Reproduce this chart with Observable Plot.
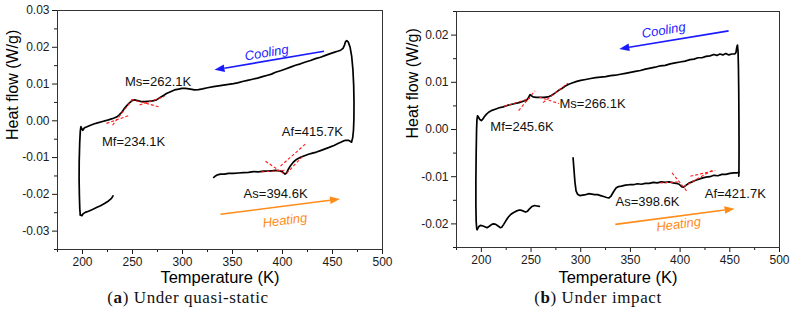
<!DOCTYPE html>
<html>
<head>
<meta charset="utf-8">
<script src="https://cdn.jsdelivr.net/npm/d3@7"></script>
<script src="https://cdn.jsdelivr.net/npm/@observablehq/plot@0.6"></script>
<style>
  body { margin: 0; background: #fff; }
  #wrap { position: relative; width: 791px; height: 313px; overflow: hidden; background: #fff; }
  .cap {
    position: absolute; top: 290px; transform: translateX(-50%);
    font-family: "Liberation Serif", "Times New Roman", serif;
    font-size: 17px; line-height: 16px; letter-spacing: 0.6px;
    color: #111; white-space: nowrap;
  }
</style>
</head>
<body>
<div id="wrap"></div>
<script>
// ---------- DSC traces: [temperature (K), heat flow (W/g)] ----------

// (a) quasi-static: heating run above the gap, then the cooling run back down
const quasiHeatHigh = [
  [331.3,-0.0154],[333,-0.0150],[335,-0.0147],[338,-0.0145],[342,-0.0145],[346,-0.0143],
  [351,-0.0143],[356,-0.0142],[361,-0.0141],[366,-0.0140],[371,-0.0138],[376,-0.0139],
  [381,-0.0137],[385,-0.0137],[389,-0.0136],[393,-0.0135],[397,-0.0136],[400,-0.0139],
  [402.5,-0.0145],[404,-0.0142],[406,-0.0131],[408,-0.0122],[411,-0.0112],[414,-0.0105],
  [418,-0.0099],[422,-0.0095],[426,-0.0091],[430,-0.0088],[434,-0.0085],[438,-0.0081],
  [442,-0.0077],[446,-0.0073],[451.5,-0.0067],[456,-0.0061],[460,-0.0056],[463,-0.0053],
  [466,-0.0053],[469,-0.0058]
];
const quasiCool = [
  [469.0,-0.0058],[470.2,-0.0046],[471.0,-0.0025],[471.4,0.0005],[471.5,0.0050],[471.2,0.0095],
  [470.4,0.0140],[469.2,0.0175],[467.6,0.0200],[465.8,0.0214],[464.3,0.0218],[463.0,0.0215],
  [462.0,0.0206],[460.5,0.0197],[458.2,0.0192],[455.0,0.0189],[451.5,0.0186],[447.0,0.0182],
  [443.0,0.0178],[438.0,0.0173],[433.0,0.0169],[428.0,0.0164],[423.0,0.0160],[418.0,0.0155],
  [413.0,0.0151],[408.0,0.0146],[403.0,0.0141],[398.0,0.0136],[393.0,0.0132],[389.0,0.0127],
  [385.0,0.0124],[380.0,0.0120],[375.0,0.0116],[370.0,0.0113],[365.0,0.0110],[360.0,0.0107],
  [355.0,0.0103],[351.0,0.0101],[346.0,0.0099],[341.0,0.0097],[336.0,0.0095],[331.0,0.0093],
  [325.0,0.0090],[320.0,0.0087],[316.0,0.0085],[312.0,0.0084],[308.0,0.0086],[303.0,0.0088],
  [299.5,0.0088],[296.0,0.0086],[292.0,0.0084],[288.0,0.0079],[284.0,0.0074],[281.0,0.0069],
  [278.0,0.0064],[274.0,0.0057],[270.0,0.0054],[266.0,0.0053],[262.0,0.0052],[258.0,0.0053],
  [255.0,0.0055],[252.0,0.0057],[249.5,0.0055],[247.0,0.0049],[244.5,0.0042],[242.0,0.0034],
  [239.5,0.0024],[237.0,0.0017],[234.5,0.0011],[231.0,0.0007],[227.5,0.0004],[224.0,0.0001],
  [220.0,-0.0002],[216.0,-0.0005],[212.0,-0.0008],[208.0,-0.0012],[204.5,-0.0016],[202.0,-0.0019],
  [200.3,-0.0026],[199.2,-0.0021],[198.4,-0.0016],[197.8,-0.0028],[197.2,-0.0060],[196.7,-0.0110],
  [196.6,-0.0160],[196.9,-0.0205],[197.3,-0.0240],[197.8,-0.0256]
];
const quasiHeatLow = [
  [197.8,-0.0256],[199.4,-0.0258],[200.6,-0.0253],[202.7,-0.0249],[206,-0.0246],[210,-0.0241],
  [214,-0.0236],[218,-0.0231],[222,-0.0225],[226,-0.0218],[229,-0.0211],[230.5,-0.0204]
];

// (b) impact
const impactHeatHigh = [
  [292.3,-0.0060],[293.2,-0.0085],[294.2,-0.0112],[295.3,-0.0130],[296.8,-0.0137],[299,-0.0140],
  [302,-0.0139],[305,-0.0138],[308,-0.0136],[311,-0.0137],[314,-0.0138],[317,-0.0138],
  [320,-0.0140],[323,-0.0142],[326,-0.0144],[328.5,-0.0145],[330.5,-0.0141],[333,-0.0132],
  [335.5,-0.0124],[338,-0.0121],[341,-0.0120],[345,-0.0118],[349,-0.0117],[353,-0.0117],
  [357,-0.0115],[361,-0.0116],[365,-0.0114],[369,-0.0114],[373,-0.0112],[377,-0.0113],
  [381,-0.0111],[385,-0.0112],[389,-0.0111],[393,-0.0113],[396,-0.0114],[399,-0.0116],
  [401.5,-0.0121],[403.5,-0.0122],[405.5,-0.0119],[408.5,-0.0114],[412,-0.0111],[415,-0.0108],
  [418,-0.0106],[422,-0.0103],[426,-0.0101],[430,-0.0100],[434,-0.0097],[438,-0.0098],
  [442,-0.0095],[446,-0.0095],[450,-0.0093],[454,-0.0092],[457,-0.0092],[459,-0.0091]
];
const impactCool = [
  [459.0,-0.0099],[459.2,-0.0090],[459.3,-0.0040],[459.2,0.0020],[459.0,0.0080],[458.7,0.0130],
  [458.3,0.0165],[457.7,0.0179],[457.0,0.0174],[456.2,0.0163],[455.0,0.0160],[452.0,0.0160],
  [449.0,0.0158],[446.0,0.0161],[443.0,0.0158],[440.0,0.0160],[437.0,0.0157],[434.0,0.0159],
  [430.0,0.0156],[426.0,0.0155],[422.0,0.0152],[418.0,0.0152],[414.0,0.0149],[410.0,0.0148],
  [405.0,0.0145],[400.0,0.0143],[395.0,0.0141],[390.0,0.0139],[385.0,0.0136],[380.0,0.0135],
  [375.0,0.0132],[370.0,0.0130],[365.0,0.0128],[360.0,0.0125],[355.0,0.0123],[350.0,0.0121],
  [345.0,0.0119],[340.0,0.0117],[335.0,0.0115],[330.0,0.0114],[325.0,0.0112],[320.0,0.0111],
  [315.0,0.0110],[310.0,0.0108],[305.0,0.0106],[300.0,0.0104],[296.0,0.0102],[292.0,0.0099],
  [288.0,0.0096],[284.5,0.0092],[281.0,0.0087],[277.8,0.0083],[274.0,0.0077],[270.5,0.0072],
  [267.0,0.0069],[263.0,0.0068],[259.0,0.0068],[255.0,0.0068],[252.0,0.0069],[250.0,0.0072],
  [249.0,0.0074],[247.5,0.0068],[245.5,0.0062],[242.0,0.0060],[238.0,0.0057],[234.0,0.0055],
  [230.0,0.0053],[226.0,0.0051],[222.0,0.0048],[218.0,0.0046],[214.0,0.0043],[210.0,0.0040],
  [207.0,0.0036],[205.0,0.0032],[203.0,0.0027],[201.5,0.0022],[200.0,0.0019],[198.5,0.0021],
  [197.2,0.0026],[196.2,0.0029],[195.6,0.0022],[195.2,0.0000],[194.8,-0.0050],[194.5,-0.0110],
  [194.5,-0.0160],[194.8,-0.0195],[195.3,-0.0209],[195.8,-0.0212]
];
const impactHeatLow = [
  [195.8,-0.0212],[197.3,-0.0206],[199,-0.0203],[201,-0.0204],[203.5,-0.0206],[205.7,-0.0208],
  [208,-0.0205],[210.5,-0.0201],[212.4,-0.0200],[214.5,-0.0201],[216.5,-0.0204],[219,-0.0208],
  [220.5,-0.0207],[222.5,-0.0201],[224.5,-0.0194],[227,-0.0186],[229.5,-0.0180],[232.5,-0.0176],
  [235,-0.0173],[237.5,-0.0171],[240,-0.0171],[242.5,-0.0173],[244.5,-0.0175],[246.5,-0.0173],
  [248.5,-0.0168],[251,-0.0163],[253.5,-0.0161],[256,-0.0162],[258.4,-0.0163]
];

// Onset / finish tangent constructions [t1, v1, t2, v2]
const quasiTangents = [
  [224,-0.0007,247,0.0015],[230,-0.0012,251,0.0062],
  [249,0.0058,278,0.0037],[257,0.0043,282,0.0066],
  [379,-0.0139,404,-0.0134],[383,-0.0110,401,-0.0143],
  [404,-0.0143,420,-0.0097],[398,-0.0123,423,-0.0063]
];
const impactTangents = [
  [223,0.0049,249,0.0066],[237.5,0.0040,254,0.0082],
  [258,0.0069,278,0.0055],[262,0.0057,287,0.0098],
  [380,-0.0113,400,-0.0111],[391.9,-0.0092,406.9,-0.0131],
  [403.5,-0.0121,433.7,-0.0085],[410.3,-0.0099,435.4,-0.0087]
];

// Transformation temperatures [T, heat flow, label]
const quasiLabels = [
  [275.6,0.0107,"Ms=262.1K"],[251.1,-0.0058,"Mf=234.1K"],
  [429.9,-0.0029,"Af=415.7K"],[393.1,-0.0199,"As=394.6K"]
];
const impactLabels = [
  [311.9,0.0055,"Ms=266.1K"],[240.9,0.0006,"Mf=245.6K"],
  [367.2,-0.0153,"As=398.6K"],[455.5,-0.0136,"Af=421.7K"]
];

// Direction arrows: tail → tip, with the word placed beside them
const quasiArrows = [
  {from:[441.5,0.0189], to:[333,0.0139], word:"Cooling", at:[384.1,0.0185], color:"#1a1aff"},
  {from:[338,-0.0254], to:[456.5,-0.0213], word:"Heating", at:[402.4,-0.0271], color:"#ff8c1a"}
];
const impactArrows = [
  {from:[448.8,0.0209], to:[339.8,0.0171], word:"Cooling", at:[383.4,0.0210], color:"#1a1aff"},
  {from:[334.8,-0.0201], to:[453.8,-0.0168], word:"Heating", at:[398.5,-0.0201], color:"#ff8c1a"}
];

// Axis ticks
const xMajor = [200,250,300,350,400,450,500];
const xMinor = [175,225,275,325,375,425,475];
const quasiYMajor = [-0.03,-0.02,-0.01,0,0.01,0.02,0.03];
const quasiYMinor = [-0.035,-0.025,-0.015,-0.005,0.005,0.015,0.025];
const impactYMajor = [-0.02,-0.01,0,0.01,0.02];
const impactYMinor = [-0.025,-0.015,-0.005,0.005,0.015,0.025];

// Filled arrowhead pointing up, base centred on the origin
const arrowHead = {
  draw(ctx) { ctx.moveTo(0,-10); ctx.lineTo(3.8,0); ctx.lineTo(-3.8,0); ctx.closePath(); }
};

function panel(cfg) {
  const {width, height, margin, xDomain, yDomain} = cfg;
  const kx = (width - margin.left - margin.right) / (xDomain[1] - xDomain[0]);
  const ky = (height - margin.top - margin.bottom) / (yDomain[1] - yDomain[0]);

  // arrows: shaft + head oriented along the on-screen direction
  const shafts = [], heads = [], words = [];
  for (const a of cfg.arrows) {
    const dxp = (a.to[0] - a.from[0]) * kx, dyp = -(a.to[1] - a.from[1]) * ky;
    const len = Math.hypot(dxp, dyp);
    const f = 9 / len;
    const base = [a.to[0] - (a.to[0] - a.from[0]) * f, a.to[1] - (a.to[1] - a.from[1]) * f];
    shafts.push({x1: a.from[0], y1: a.from[1], x2: base[0], y2: base[1], color: a.color});
    // rotate an upward-pointing head clockwise onto the screen direction
    heads.push({x: base[0], y: base[1], color: a.color, rot: Math.atan2(dxp, -dyp) * 180 / Math.PI});
    // words read left to right along the arrow's slope
    const s = dxp < 0 ? -1 : 1;
    words.push({x: a.at[0], y: a.at[1], text: a.word, color: a.color,
      rot: Math.atan2(dyp * s, dxp * s) * 180 / Math.PI});
  }

  const line = (data) => Plot.line(data, {x: d => d[0], y: d => d[1], stroke: "#000", strokeWidth: 1.7, strokeLinejoin: "round"});

  return Plot.plot({
    width, height,
    marginTop: margin.top, marginRight: margin.right, marginBottom: margin.bottom, marginLeft: margin.left,
    x: {domain: xDomain, label: null},
    y: {domain: yDomain, label: null},
    style: {fontFamily: "'Liberation Sans', Arial, sans-serif", fontSize: "12px", color: "#1a1a1a", background: "#fff", overflow: "visible"},
    marks: [
      Plot.axisX(xMajor, {tickSize: 5, tickPadding: 3, tickFormat: d => String(d), label: null}),
      Plot.axisX(xMinor, {tickSize: 3, tickFormat: () => "", label: null}),
      Plot.axisY(cfg.yMajor, {tickSize: 5, tickPadding: 3, tickFormat: d => d.toFixed(2), label: null}),
      Plot.axisY(cfg.yMinor, {tickSize: 3, tickFormat: () => "", label: null}),
      Plot.frame({stroke: "#333", strokeWidth: 1}),
      ...cfg.curves.map(line),
      Plot.link(cfg.tangents, {x1: d => d[0], y1: d => d[1], x2: d => d[2], y2: d => d[3],
        stroke: "#ff1a1a", strokeWidth: 1.1, strokeDasharray: "3,2"}),
      Plot.text(cfg.labels, {x: d => d[0], y: d => d[1], text: d => d[2], fontSize: 13, fill: "#111"}),
      Plot.link(shafts, {x1: "x1", y1: "y1", x2: "x2", y2: "y2", stroke: "color", strokeWidth: 1.6}),
      Plot.dot(heads, {x: "x", y: "y", fill: "color", stroke: null, symbol: arrowHead, rotate: "rot", r: 4}),
      Plot.text(words, {x: "x", y: "y", text: "text", fill: "color", rotate: "rot", fontSize: 13, fontStyle: "italic"}),
      Plot.text(["Temperature (K)"], {text: d => d, frameAnchor: "bottom", lineAnchor: "top", dy: cfg.xTitleDy, fontSize: 16.5, fill: "#000"}),
      Plot.text(["Heat flow (W/g)"], {text: d => d, frameAnchor: "left", rotate: -90, dx: cfg.yTitleDx, dy: cfg.yTitleDy, fontSize: 16, fill: "#000"})
    ]
  });
}

const wrap = document.getElementById("wrap");

const svgA = panel({
  width: 395, height: 290, margin: {top: 10, right: 13, bottom: 41, left: 57},
  xDomain: [175, 500], yDomain: [-0.035, 0.03],
  yMajor: quasiYMajor, yMinor: quasiYMinor,
  curves: [quasiHeatHigh, quasiCool, quasiHeatLow],
  tangents: quasiTangents, labels: quasiLabels, arrows: quasiArrows,
  xTitleDy: 22, yTitleDx: -45, yTitleDy: 10
});
const svgB = panel({
  width: 396, height: 290, margin: {top: 11, right: 12, bottom: 43, left: 61},
  xDomain: [175, 500], yDomain: [-0.025, 0.025],
  yMajor: impactYMajor, yMinor: impactYMinor,
  curves: [impactHeatHigh, impactCool, impactHeatLow],
  tangents: impactTangents, labels: impactLabels, arrows: impactArrows,
  xTitleDy: 24, yTitleDx: -43.5, yTitleDy: 9
});

for (const [svg, left] of [[svgA, 0], [svgB, 395]]) {
  svg.style.position = "absolute";
  svg.style.left = left + "px";
  svg.style.top = "0px";
  wrap.appendChild(svg);
}

const captions = [
  {left: 188, html: "(<b>a</b>) Under quasi-static"},
  {left: 598, html: "(<b>b</b>) Under impact"}
];
for (const c of captions) {
  const div = document.createElement("div");
  div.className = "cap";
  div.style.left = c.left + "px";
  div.innerHTML = c.html;
  wrap.appendChild(div);
}
</script>
</body>
</html>
